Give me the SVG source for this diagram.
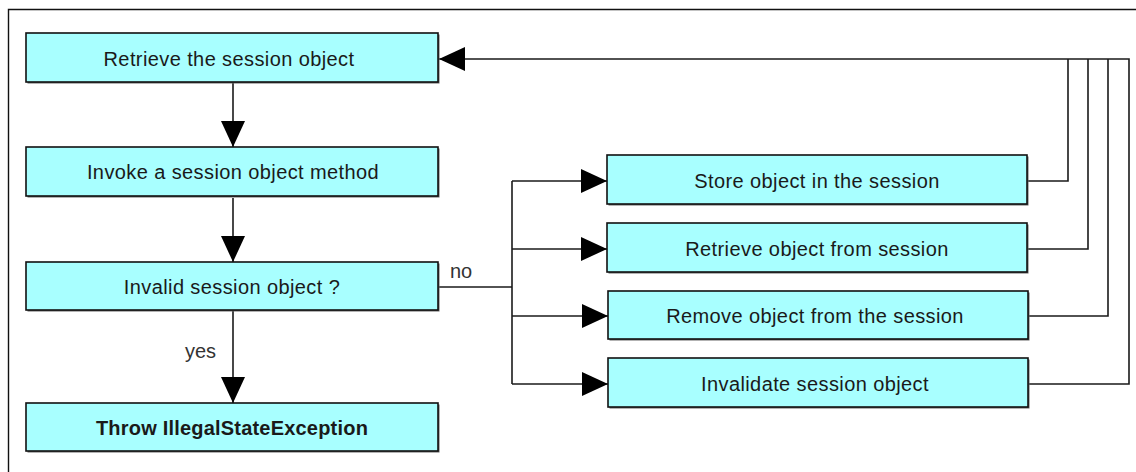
<svg xmlns="http://www.w3.org/2000/svg" width="1136" height="472" viewBox="0 0 1136 472">
  <style>
    .box { fill: #a8ffff; stroke: #111; stroke-width: 1.6; }
    .shadow { fill: #666; }
    .label { font-family: "Liberation Sans", Arial, sans-serif; font-size: 20px; letter-spacing: 0.4px; fill: #1a1a1a; text-anchor: middle; }
    .bold { font-weight: bold; letter-spacing: 0.2px; }
    .edge { fill: none; stroke: #1a1a1a; stroke-width: 1.6; }
    .tag { font-family: "Liberation Sans", Arial, sans-serif; font-size: 20px; fill: #333; }
  </style>
  <defs>
    <marker id="head" markerUnits="userSpaceOnUse" viewBox="0 0 26 24" refX="26" refY="12" markerWidth="26" markerHeight="24" orient="auto">
      <path d="M0,0 L26,12 L0,24 z" fill="#000"/>
    </marker>
  </defs>

  <rect width="1136" height="472" fill="#fff"/>
  <!-- outer frame -->
  <path d="M8.5,472 V9.5 H1136" fill="none" stroke="#111" stroke-width="1.4"/>

  <!-- connectors -->
  <g id="connectors">
    <path class="edge" d="M233,82 V147" marker-end="url(#head)"/>
    <path class="edge" d="M233,198 V262" marker-end="url(#head)"/>
    <path class="edge" d="M233,311 V403" marker-end="url(#head)"/>
    <text class="tag" x="185" y="358">yes</text>

    <path class="edge" d="M438,287 H512"/>
    <text class="tag" x="450" y="278">no</text>
    <path class="edge" d="M512,181 V384"/>
    <path class="edge" d="M512,181 H607" marker-end="url(#head)"/>
    <path class="edge" d="M512,249 H607" marker-end="url(#head)"/>
    <path class="edge" d="M512,316 H608" marker-end="url(#head)"/>
    <path class="edge" d="M512,384 H608" marker-end="url(#head)"/>

    <path class="edge" d="M1028,181 H1068 V59"/>
    <path class="edge" d="M1028,249 H1088 V59"/>
    <path class="edge" d="M1028,316 H1108 V59"/>
    <path class="edge" d="M1028,384 H1129 V59 H439" marker-end="url(#head)"/>
  </g>

  <g id="retrieve-session">
    <rect class="shadow" x="27.5" y="34.5" width="412" height="49"/>
    <rect class="box" x="26" y="33" width="412" height="49"/>
    <text class="label" x="229" y="66">Retrieve the session object</text>
  </g>
  <g id="invoke-method">
    <rect class="shadow" x="27.5" y="148.5" width="412" height="49"/>
    <rect class="box" x="26" y="147" width="412" height="49"/>
    <text class="label" x="233" y="179">Invoke a session object method</text>
  </g>
  <g id="invalid-check">
    <rect class="shadow" x="27.5" y="263.5" width="412" height="48"/>
    <rect class="box" x="26" y="262" width="412" height="48"/>
    <text class="label" x="232" y="294">Invalid session object ?</text>
  </g>
  <g id="throw-exception">
    <rect class="shadow" x="27.5" y="404.5" width="412" height="48"/>
    <rect class="box" x="26" y="403" width="412" height="48"/>
    <text class="label bold" x="232" y="435">Throw IllegalStateException</text>
  </g>

  <g id="store-object">
    <rect class="shadow" x="608.5" y="156.5" width="420" height="49"/>
    <rect class="box" x="607" y="155" width="420" height="49"/>
    <text class="label" x="817" y="188">Store object in the session</text>
  </g>
  <g id="retrieve-object">
    <rect class="shadow" x="608.5" y="224.5" width="420" height="49"/>
    <rect class="box" x="607" y="223" width="420" height="49"/>
    <text class="label" x="817" y="256">Retrieve object from session</text>
  </g>
  <g id="remove-object">
    <rect class="shadow" x="609.5" y="292.5" width="420" height="48"/>
    <rect class="box" x="608" y="291" width="420" height="48"/>
    <text class="label" x="815" y="323">Remove object from the session</text>
  </g>
  <g id="invalidate-session">
    <rect class="shadow" x="609.5" y="359.5" width="420" height="49"/>
    <rect class="box" x="608" y="358" width="420" height="49"/>
    <text class="label" x="815" y="391">Invalidate session object</text>
  </g>
</svg>
